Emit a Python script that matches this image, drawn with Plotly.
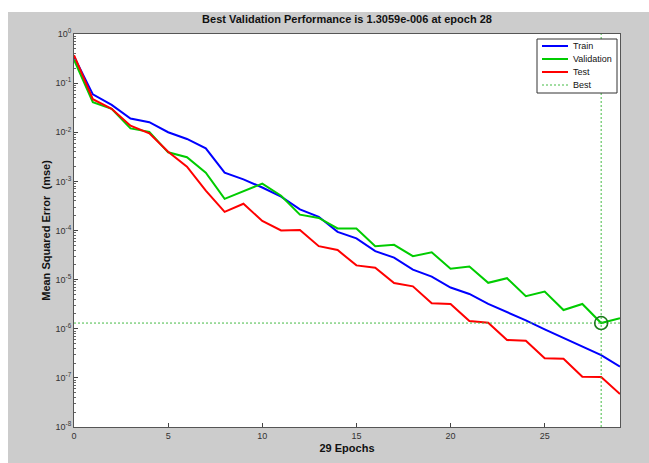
import plotly.graph_objects as go

# Training record: mean squared error per epoch
epochs = list(range(30))
train_mse = [0.35, 0.059, 0.036, 0.019, 0.016, 0.010, 0.0073, 0.0047, 0.0015, 0.0011,
             7.5e-4, 4.9e-4, 2.7e-4, 1.9e-4, 9.4e-5, 6.9e-5, 3.8e-5, 2.8e-5, 1.6e-5, 1.15e-5,
             6.9e-6, 5.1e-6, 3.2e-6, 2.2e-6, 1.48e-6, 9.7e-7, 6.5e-7, 4.4e-7, 2.9e-7, 1.7e-7]
val_mse = [0.30, 0.041, 0.030, 0.012, 0.0102, 0.0039, 0.0031, 0.0015, 4.4e-4, 6.3e-4,
           9.0e-4, 5.1e-4, 2.1e-4, 1.8e-4, 1.1e-4, 1.1e-4, 4.8e-5, 5.1e-5, 3.0e-5, 3.6e-5,
           1.66e-5, 1.85e-5, 8.6e-6, 1.07e-5, 4.6e-6, 5.7e-6, 2.4e-6, 3.2e-6, 1.3059e-6, 1.63e-6]
test_mse = [0.37, 0.047, 0.030, 0.0136, 0.0095, 0.0040, 0.0020, 6.5e-4, 2.4e-4, 3.5e-4,
            1.56e-4, 1.0e-4, 1.02e-4, 4.8e-5, 4.0e-5, 1.95e-5, 1.74e-5, 8.5e-6, 7.3e-6, 3.3e-6,
            3.2e-6, 1.44e-6, 1.32e-6, 5.9e-7, 5.7e-7, 2.5e-7, 2.45e-7, 1.05e-7, 1.04e-7, 4.7e-8]

best_epoch = 28
best_perf = 1.3059e-6
n_epochs = 29

x_ticks = [0, 5, 10, 15, 20, 25]
y_exponents = [0, -1, -2, -3, -4, -5, -6, -7, -8]

legend_names = ["Train", "Validation", "Test", "Best"]

FONT = "Arial, Liberation Sans, sans-serif"
BLUE, GREEN, RED = "#0000ff", "#00cc00", "#ff0000"
BEST_COLOR = "#44bb44"
BEST_DASH = "2px,2px"

fig = go.Figure()
fig.add_trace(go.Scatter(x=epochs, y=train_mse, mode="lines", name="Train",
                         line=dict(color=BLUE, width=2)))
fig.add_trace(go.Scatter(x=epochs, y=val_mse, mode="lines", name="Validation",
                         line=dict(color=GREEN, width=2)))
fig.add_trace(go.Scatter(x=epochs, y=test_mse, mode="lines", name="Test",
                         line=dict(color=RED, width=2)))
# Best-epoch guide lines (vertical and horizontal) as one dotted trace
fig.add_trace(go.Scatter(
    x=[best_epoch, best_epoch, None, 0, n_epochs],
    y=[10 ** y_exponents[-1], 10 ** y_exponents[0], None, best_perf, best_perf],
    mode="lines", name="Best",
    line=dict(color=BEST_COLOR, width=1, dash=BEST_DASH)))
fig.add_trace(go.Scatter(
    x=[best_epoch], y=[best_perf], mode="markers",
    marker=dict(symbol="circle-open", size=13, color="#1a7a1a", line=dict(width=1.6))))

# minor log ticks between decades
minor_vals = [m * 10 ** e for e in range(-8, 0) for m in range(2, 10)]

W, H = 649, 463
L, R, T, B = 74, 29, 34, 36
pw, ph = W - L - R, H - T - B


def px(x):
    return (x - L) / pw


def py(y):
    return 1 - (y - T) / ph


fig.update_layout(
    width=W, height=H,
    margin=dict(l=L, r=R, t=T, b=B, pad=0),
    paper_bgcolor="#cccccc", plot_bgcolor="white",
    font=dict(family=FONT, size=9, color="#222222"),
    showlegend=False,
    title=dict(text="<b>Best Validation Performance is 1.3059e-006 at epoch 28</b>",
               x=(L + pw / 2) / W, xanchor="center", y=1 - 19 / H, yanchor="middle",
               font=dict(family=FONT, size=11, color="#111111")),
    xaxis=dict(range=[0, n_epochs], tickvals=x_ticks, ticktext=[str(v) for v in x_ticks],
               ticks="inside", ticklen=4, tickcolor="#444444",
               showline=True, linecolor="#555555", linewidth=1, mirror=True,
               showgrid=False, zeroline=False,
               tickfont=dict(size=9, color="#333333"),
               title=dict(text="<b>29 Epochs</b>", standoff=4,
                          font=dict(family=FONT, size=11, color="#111111"))),
    yaxis=dict(type="log", range=[y_exponents[-1], y_exponents[0]],
               tickvals=[10 ** e for e in y_exponents],
               ticktext=["10<sup>%d</sup>" % e for e in y_exponents],
               ticks="inside", ticklen=4, tickcolor="#444444",
               minor=dict(tickvals=minor_vals, ticks="inside", ticklen=2,
                          tickcolor="#666666", showgrid=False),
               showline=True, linecolor="#555555", linewidth=1, mirror=True,
               showgrid=False, zeroline=False,
               tickfont=dict(size=9, color="#333333"),
               title=dict(text="<b>Mean Squared Error  (mse)</b>", standoff=2,
                          font=dict(family=FONT, size=11, color="#111111"))),
)

# Compact legend box in the upper-right corner of the axes
fig.add_shape(type="rect", xref="paper", yref="paper", layer="above",
              x0=px(537), x1=px(617), y0=py(93), y1=py(39),
              fillcolor="white", line=dict(color="#333333", width=1))
legend_styles = [dict(color=BLUE, width=2), dict(color=GREEN, width=2),
                 dict(color=RED, width=2), dict(color=BEST_COLOR, width=1, dash=BEST_DASH)]
for i, (name, style) in enumerate(zip(legend_names, legend_styles)):
    yy = 46 + i * 13
    fig.add_shape(type="line", xref="paper", yref="paper", layer="above",
                  x0=px(542), x1=px(568), y0=py(yy), y1=py(yy), line=style)
    fig.add_annotation(xref="paper", yref="paper", x=px(570.5), y=py(yy),
                       xanchor="left", yanchor="middle", showarrow=False, text=name,
                       font=dict(family=FONT, size=9, color="#111111"))

# white page border above and left of the grey figure panel
fig.add_shape(type="rect", xref="paper", yref="paper", layer="above",
              x0=-L / pw - 0.01, x1=1 + R / pw + 0.01, y0=1 + (T - 12) / ph, y1=1 + T / ph + 0.01,
              fillcolor="white", line=dict(width=0))
fig.add_shape(type="rect", xref="paper", yref="paper", layer="above",
              x0=-L / pw - 0.01, x1=-(L - 8) / pw, y0=-B / ph - 0.01, y1=1 + T / ph + 0.01,
              fillcolor="white", line=dict(width=0))

fig.write_html("out.html")
